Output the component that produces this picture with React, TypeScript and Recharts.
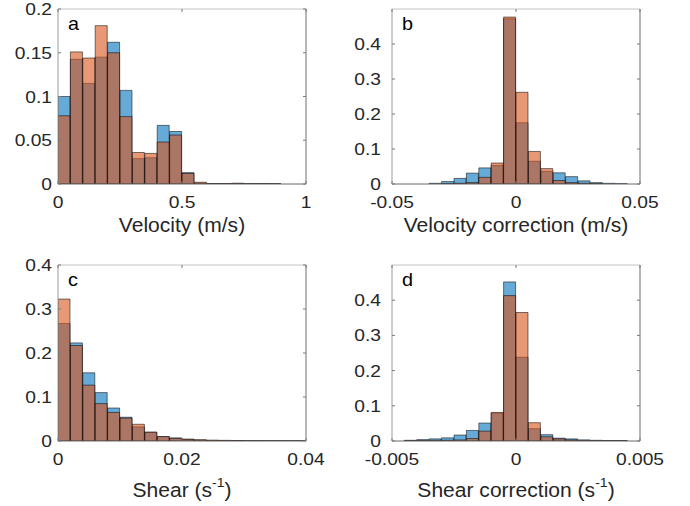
import React from 'react';
import { ComposedChart, Bar, XAxis, YAxis, Label } from 'recharts';

// ---------- data ----------
const velocityBinCenters = [0.025, 0.075, 0.125, 0.175, 0.225, 0.275, 0.325, 0.375, 0.425, 0.475, 0.525, 0.575, 0.625, 0.675, 0.725, 0.775, 0.825, 0.875, 0.925, 0.975];
const velocityBlue = [0.1, 0.1425, 0.115, 0.145, 0.162, 0.107, 0.029, 0.03, 0.067, 0.06, 0.013, 0.001, 0.0005, 0.0005, 0.0007, 0.0003, 0.0004, 0.0003, 0, 0];
const velocityOrange = [0.078, 0.151, 0.144, 0.181, 0.15, 0.077, 0.036, 0.035, 0.048, 0.056, 0.012, 0.002, 0.0005, 0.0005, 0.0008, 0.0003, 0.0005, 0.0002, 0, 0];
const velocityXTicks = [0, 0.5, 1];
const velocityYTicks = [0, 0.05, 0.1, 0.15, 0.2];

const velCorrBinCenters = [-0.0475, -0.0425, -0.0375, -0.0325, -0.0275, -0.0225, -0.0175, -0.0125, -0.0075, -0.0025, 0.0025, 0.0075, 0.0125, 0.0175, 0.0225, 0.0275, 0.0325, 0.0375, 0.0425, 0.0475];
const velCorrBlue = [0, 0, 0, 0.002, 0.007, 0.016, 0.031, 0.046, 0.053, 0.472, 0.175, 0.065, 0.036, 0.032, 0.021, 0.009, 0.004, 0.002, 0.001, 0];
const velCorrOrange = [0, 0, 0, 0, 0.001, 0.002, 0.004, 0.019, 0.06, 0.477, 0.262, 0.093, 0.044, 0.01, 0.004, 0.002, 0.001, 0, 0, 0];
const velCorrXTicks = [-0.05, 0, 0.05];
const velCorrYTicks = [0, 0.1, 0.2, 0.3, 0.4];

const shearBinCenters = [0.001, 0.003, 0.005, 0.007, 0.009, 0.011, 0.013, 0.015, 0.017, 0.019, 0.021, 0.023, 0.025, 0.027, 0.029, 0.031, 0.033, 0.035, 0.037, 0.039];
const shearBlue = [0.267, 0.223, 0.155, 0.11, 0.075, 0.054, 0.032, 0.02, 0.01, 0.007, 0.004, 0.002, 0.001, 0.001, 0.001, 0.0005, 0.0005, 0.0005, 0.0003, 0.0003];
const shearOrange = [0.3226, 0.217, 0.127, 0.085, 0.065, 0.052, 0.038, 0.02, 0.01, 0.006, 0.004, 0.003, 0.002, 0.0015, 0.001, 0.0005, 0.0005, 0.0003, 0.0003, 0.0002];
const shearXTicks = [0, 0.02, 0.04];
const shearYTicks = [0, 0.1, 0.2, 0.3, 0.4];

const shearCorrBinCenters = [-0.00475, -0.00425, -0.00375, -0.00325, -0.00275, -0.00225, -0.00175, -0.00125, -0.00075, -0.00025, 0.00025, 0.00075, 0.00125, 0.00175, 0.00225, 0.00275, 0.00325, 0.00375, 0.00425, 0.00475];
const shearCorrBlue = [0, 0.002, 0.004, 0.006, 0.009, 0.017, 0.03, 0.051, 0.079, 0.452, 0.238, 0.035, 0.018, 0.008, 0.006, 0.003, 0.002, 0.001, 0.001, 0];
const shearCorrOrange = [0, 0.001, 0.001, 0.002, 0.002, 0.003, 0.007, 0.028, 0.081, 0.413, 0.365, 0.052, 0.012, 0.006, 0.003, 0.002, 0.001, 0.001, 0.001, 0];
const shearCorrXTicks = [-0.005, 0, 0.005];
const shearCorrYTicks = [0, 0.1, 0.2, 0.3, 0.4];

// ---------- styles ----------
const FONT = '"Liberation Sans", Arial, Helvetica, sans-serif';
const TEXT = '#262626';
const AXIS = '#7a7a7a';
const BLUE = '#0072BD';
const ORANGE = '#D95319';
const TICK_LEN = 3;

type PanelProps = {
  left: number;
  top: number;
  margin: { top: number; right: number; bottom: number; left: number };
  yAxisWidth: number;
  centers: number[];
  blue: number[];
  orange: number[];
  xDomain: [number, number];
  yDomain: [number, number];
  xTicks: number[];
  yTicks: number[];
  letter: string;
  title: string;
  superscript?: string;
  titleAfter?: string;
  titleOffset: number;
  yLabelGap: number;
};

const Panel = (p: PanelProps) => {
  const data = p.centers.map((c, i) => ({ x: c, blue: p.blue[i], orange: p.orange[i] }));

  const xTick = (props: any) => {
    const { x, y, payload } = props;
    return (
      <g>
        <line x1={x} x2={x} y1={y} y2={y - TICK_LEN} stroke={AXIS} strokeWidth={1} />
        <text
          transform={`translate(${x},${y + 24}) scale(1.2,1)`}
          textAnchor="middle"
          fontSize={16}
          fontFamily={FONT}
          fill={TEXT}
        >
          {String(payload.value)}
        </text>
      </g>
    );
  };
  const topTick = (props: any) => {
    const { x, y } = props;
    return <line x1={x} x2={x} y1={y} y2={y + TICK_LEN} stroke={AXIS} strokeWidth={1} />;
  };
  const yTick = (props: any) => {
    const { x, y, payload } = props;
    return (
      <g>
        <line x1={x} x2={x + TICK_LEN} y1={y} y2={y} stroke={AXIS} strokeWidth={1} />
        <text
          transform={`translate(${x - p.yLabelGap},${y + 6}) scale(1.2,1)`}
          textAnchor="end"
          fontSize={16}
          fontFamily={FONT}
          fill={TEXT}
        >
          {String(payload.value)}
        </text>
      </g>
    );
  };
  const rightTick = (props: any) => {
    const { x, y } = props;
    return <line x1={x} x2={x - TICK_LEN} y1={y} y2={y} stroke={AXIS} strokeWidth={1} />;
  };

  const titleContent = (props: any) => {
    const vb = props.viewBox;
    const cx = vb.x + vb.width / 2;
    const by = vb.y + p.titleOffset;
    return (
      <text
        transform={`translate(${cx},${by}) scale(1.08,1)`}
        textAnchor="middle"
        fontSize={19.5}
        fontFamily={FONT}
        fill={TEXT}
      >
        <tspan>{p.title}</tspan>
        {p.superscript ? (
          <tspan dy={-10} fontSize={13}>
            {p.superscript}
          </tspan>
        ) : null}
        {p.titleAfter ? <tspan dy={p.superscript ? 10 : 0}>{p.titleAfter}</tspan> : null}
      </text>
    );
  };

  const letterContent = (props: any) => {
    const vb = props.viewBox;
    return (
      <text
        transform={`translate(${vb.x + vb.width + 10},${vb.y + 21}) scale(1.1,1)`}
        textAnchor="start"
        fontSize={18}
        fontFamily={FONT}
        fill="#000"
      >
        {p.letter}
      </text>
    );
  };

  const width = 345;
  const height = 253;

  return (
    <div style={{ position: 'absolute', left: p.left, top: p.top, width, height }}>
      <ComposedChart
        width={width}
        height={height}
        data={data}
        margin={p.margin}
        barCategoryGap={0}
        barGap={0}
      >
        <XAxis
          xAxisId="bottom"
          dataKey="x"
          type="number"
          domain={p.xDomain}
          allowDataOverflow
          ticks={p.xTicks}
          interval={0}
          orientation="bottom"
          height={60}
          tickSize={0}
          tickMargin={0}
          tickLine={false}
          axisLine={{ stroke: '#6a6a6a', strokeWidth: 1 }}
          tick={xTick}
        >
          <Label content={titleContent} />
        </XAxis>
        <XAxis
          xAxisId="top"
          dataKey="x"
          type="number"
          domain={p.xDomain}
          allowDataOverflow
          ticks={p.xTicks}
          interval={0}
          orientation="top"
          height={1}
          tickSize={0}
          tickMargin={0}
          tickLine={false}
          axisLine={{ stroke: '#c4c4c4', strokeWidth: 1 }}
          tick={topTick}
        />
        <YAxis
          yAxisId="left"
          type="number"
          domain={p.yDomain}
          allowDataOverflow
          ticks={p.yTicks}
          interval={0}
          orientation="left"
          width={p.yAxisWidth}
          tickSize={0}
          tickMargin={0}
          tickLine={false}
          axisLine={{ stroke: '#9a9a9a', strokeWidth: 1 }}
          tick={yTick}
        >
          <Label content={letterContent} />
        </YAxis>
        <YAxis
          yAxisId="right"
          type="number"
          domain={p.yDomain}
          allowDataOverflow
          ticks={p.yTicks}
          interval={0}
          orientation="right"
          width={1}
          tickSize={0}
          tickMargin={0}
          tickLine={false}
          axisLine={{ stroke: '#6e6e6e', strokeWidth: 1 }}
          tick={rightTick}
        />
        <Bar
          dataKey="blue"
          xAxisId="bottom"
          yAxisId="left"
          fill={BLUE}
          fillOpacity={0.6}
          stroke="#000"
          strokeOpacity={0.65}
          strokeWidth={0.8}
          isAnimationActive={false}
        />
        <Bar
          dataKey="orange"
          xAxisId="top"
          yAxisId="left"
          fill={ORANGE}
          fillOpacity={0.6}
          stroke="#000"
          strokeOpacity={0.65}
          strokeWidth={0.8}
          isAnimationActive={false}
        />
      </ComposedChart>
    </div>
  );
};

export default function App() {
  const leftMargins = (top: number, bottom: number) => ({ top, right: 38, bottom, left: 8 });
  const rightMargins = (top: number, bottom: number) => ({ top, right: 49, bottom, left: 7 });
  return (
    <div
      style={{
        position: 'absolute',
        left: 0,
        top: 0,
        width: 690,
        height: 506,
        background: '#ffffff',
        overflow: 'hidden',
      }}
    >
      <Panel
        left={0}
        top={0}
        margin={leftMargins(8, 9)}
        yAxisWidth={50}
        centers={velocityBinCenters}
        blue={velocityBlue}
        orange={velocityOrange}
        xDomain={[0, 1]}
        yDomain={[0, 0.2]}
        xTicks={velocityXTicks}
        yTicks={velocityYTicks}
        letter="a"
        title="Velocity (m/s)"
        titleOffset={48}
        yLabelGap={6}
      />
      <Panel
        left={345}
        top={0}
        margin={rightMargins(8, 9)}
        yAxisWidth={40}
        centers={velCorrBinCenters}
        blue={velCorrBlue}
        orange={velCorrOrange}
        xDomain={[-0.05, 0.05]}
        yDomain={[0, 0.5]}
        xTicks={velCorrXTicks}
        yTicks={velCorrYTicks}
        letter="b"
        title="Velocity correction (m/s)"
        titleOffset={48}
        yLabelGap={11}
      />
      <Panel
        left={0}
        top={253}
        margin={leftMargins(11, 5)}
        yAxisWidth={50}
        centers={shearBinCenters}
        blue={shearBlue}
        orange={shearOrange}
        xDomain={[0, 0.04]}
        yDomain={[0, 0.4]}
        xTicks={shearXTicks}
        yTicks={shearYTicks}
        letter="c"
        title="Shear (s"
        superscript="-1"
        titleAfter=")"
        titleOffset={56}
        yLabelGap={6}
      />
      <Panel
        left={345}
        top={253}
        margin={rightMargins(11, 5)}
        yAxisWidth={40}
        centers={shearCorrBinCenters}
        blue={shearCorrBlue}
        orange={shearCorrOrange}
        xDomain={[-0.005, 0.005]}
        yDomain={[0, 0.5]}
        xTicks={shearCorrXTicks}
        yTicks={shearCorrYTicks}
        letter="d"
        title="Shear correction (s"
        superscript="-1"
        titleAfter=")"
        titleOffset={56}
        yLabelGap={11}
      />
    </div>
  );
}
